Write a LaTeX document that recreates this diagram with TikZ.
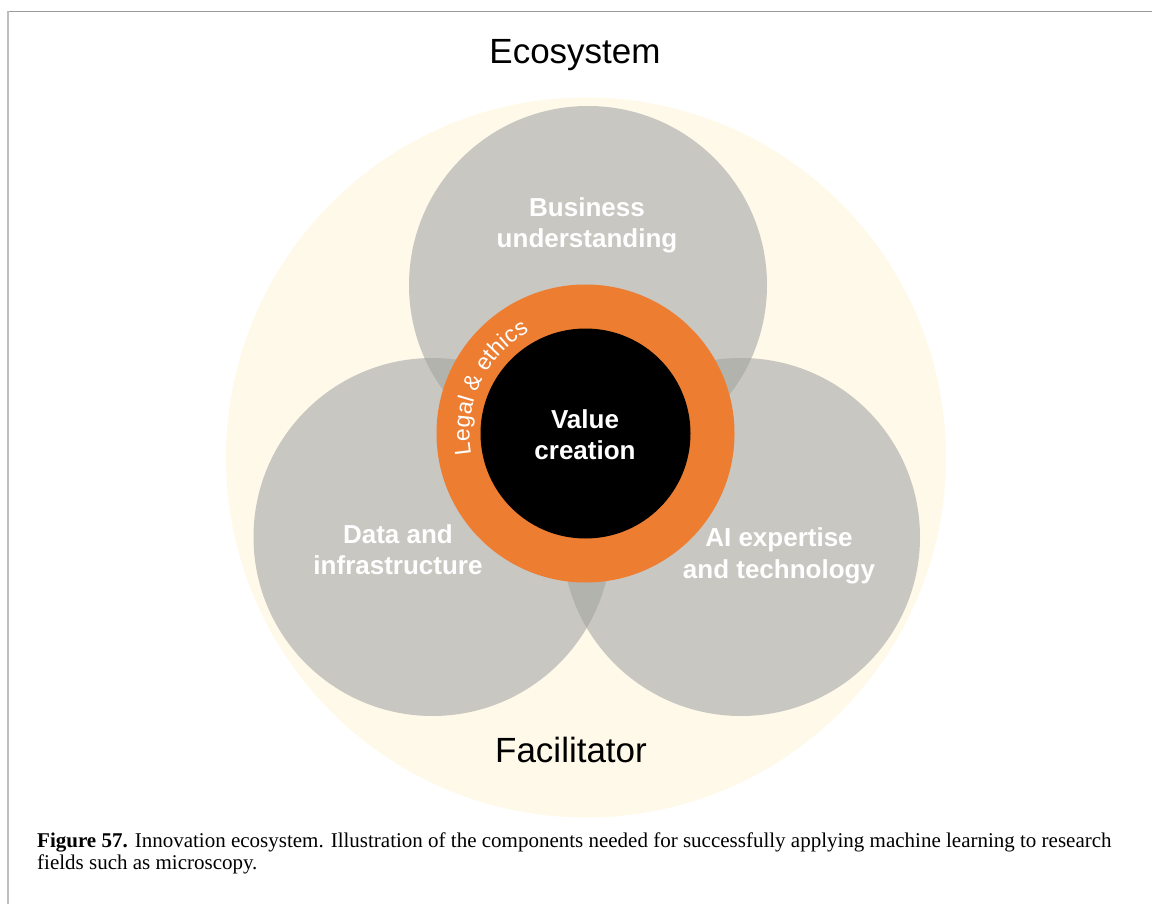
\documentclass[tikz,border=0pt]{standalone}
\usepackage{fontspec}
\setmainfont{Liberation Sans}
\newfontfamily\capfont{Liberation Serif}
\usetikzlibrary{calc}
\definecolor{ecofill}{HTML}{FFF9E9}
\definecolor{grayA}{HTML}{C8C7C1}
\definecolor{grayB}{HTML}{B3B3AE}
\definecolor{ringorange}{HTML}{ED7D31}
\definecolor{frameA}{HTML}{999999}
\definecolor{frameB}{HTML}{BEBEBE}
\newlength\legchw
\newlength\legtotw
\begin{document}%
\settowidth{\legtotw}{\fontsize{23}{23}\selectfont Legal \& ethics}%
\pgfmathsetmacro\legstart{154.5 + 0.5*\legtotw/116*57.29578}%
\xdef\legang{\legstart}%
\foreach \ch [count=\k] in {L,e,g,a,l,\ ,\&,\ ,e,t,h,i,c,s}{%
  \settowidth{\legchw}{\fontsize{23}{23}\selectfont\ch}%
  \pgfmathsetmacro\chmid{\legang - 0.5*\legchw/116*57.29578}%
  \pgfmathsetmacro\chnext{\legang - \legchw/116*57.29578}%
  \expandafter\xdef\csname legmid\k\endcsname{\chmid}%
  \xdef\legang{\chnext}%
}%
\begin{tikzpicture}[x=1pt,y=1pt,
  bigtitle/.style={font=\fontsize{35}{42}\selectfont, inner sep=0pt, text=black},
  comptext/.style={font=\fontsize{26}{31.5}\selectfont\bfseries, text=white, align=center, inner sep=0pt},
  legalchar/.style={font=\fontsize{23}{23}\selectfont, text=white, inner sep=0pt, anchor=base},
  captext/.style={font=\capfont\fontsize{21}{22.6}\selectfont, inner sep=0pt, align=left, text=black}
]
\useasboundingbox (0,0) rectangle (1152,-904);
\coordinate (eco) at (586,-457.5);
\coordinate (biz) at (588,-285);
\coordinate (dat) at (432.5,-537);
\coordinate (ai) at (741,-537);
\coordinate (val) at (585.5,-433.5);
% frame
\draw[frameA, line width=1.5pt] (7,-11.5) -- (1152,-11.5);
\draw[frameB, line width=2pt] (7.5,-11) -- (7.5,-904);
% ecosystem disc
\fill[ecofill] (eco) circle[radius=360pt];
% component circles
\fill[grayA] (biz) circle[radius=179pt];
\fill[grayA] (dat) circle[radius=179pt];
\fill[grayA] (ai) circle[radius=179pt];
\begin{scope}
  \clip (biz) circle[radius=179pt];
  \fill[grayB] (dat) circle[radius=179pt];
  \fill[grayB] (ai) circle[radius=179pt];
\end{scope}
\begin{scope}
  \clip (dat) circle[radius=179pt];
  \fill[grayB] (ai) circle[radius=179pt];
\end{scope}
% ring and core
\fill[ringorange] (val) circle[radius=149pt];
\fill[black] (val) circle[radius=105pt];
% curved label
\foreach \ch [count=\k] in {L,e,g,a,l,\ ,\&,\ ,e,t,h,i,c,s}{
  \edef\chmid{\csname legmid\k\endcsname}
  \node[legalchar, rotate=\chmid-90] (legal\k) at ($(val)+(\chmid:116pt)$) {\ch};
}
% texts
\node[bigtitle, anchor=base] (ecotitle) at (575,-63.5) {Ecosystem};
\node[bigtitle, anchor=base] (facil) at (571,-762.5) {Facilitator};
\node[comptext] (biztext) at (587,-225.5) {Business\\understanding};
\node[comptext] (dattext) at (398,-549.7) {Data and\\infrastructure};
\node[comptext] (aitext) at (779,-556) {AI expertise\\and technology};
\node[comptext] (valtext) at (585,-434.7) {Value\\creation};
\node[captext, anchor=north west] (caption) at (37,-832.3)
  {\textbf{Figure 57.} Innovation ecosystem. Illustration of the components needed for successfully applying machine learning to research\\fields such as microscopy.};
\end{tikzpicture}%
\end{document}
